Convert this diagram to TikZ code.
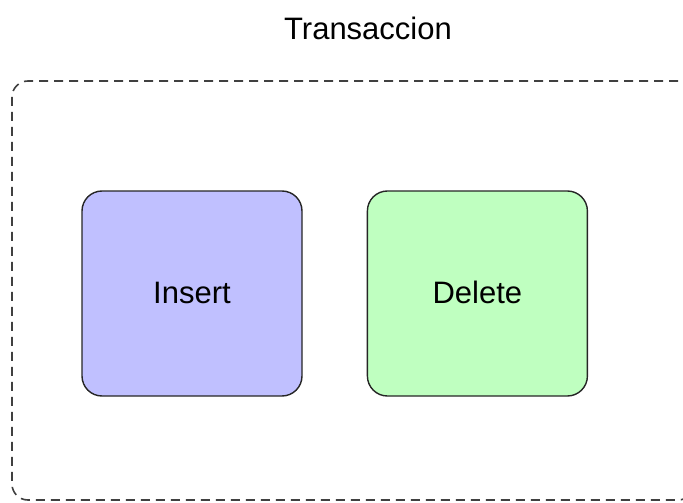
\documentclass[tikz,border=0pt]{standalone}
\usepackage{fontspec}
\setmainfont{Liberation Sans}
\usetikzlibrary{positioning}

\definecolor{insertblue}{HTML}{C0C0FF}
\definecolor{deletegreen}{HTML}{BFFFC0}

\begin{document}
\begin{tikzpicture}[x=1pt,y=-1pt,node distance=64pt,
    every node/.style={font=\fontsize{31}{36}\selectfont},
    opbox/.style={draw=black!85,line width=1.4pt,rounded corners=20pt,
      minimum width=220pt,minimum height=205pt,inner sep=0pt},
    frame/.style={draw=black!75,line width=1.6pt,dash pattern=on 9pt off 6pt,
      rounded corners=16pt,minimum width=682pt,minimum height=419pt,inner sep=0pt}]
    \clip (0,0) rectangle (683,503);
    \node[frame] (txn) at (353,290.5) {};
    \node (title) at (368,28) {Transaccion};
    \node[opbox,fill=insertblue] (insert) at (192,293.5) {\raisebox{2pt}{Insert}};
    \node[opbox,fill=deletegreen,right=of insert] (delete) {\raisebox{2pt}{Delete}};
\end{tikzpicture}
\end{document}
